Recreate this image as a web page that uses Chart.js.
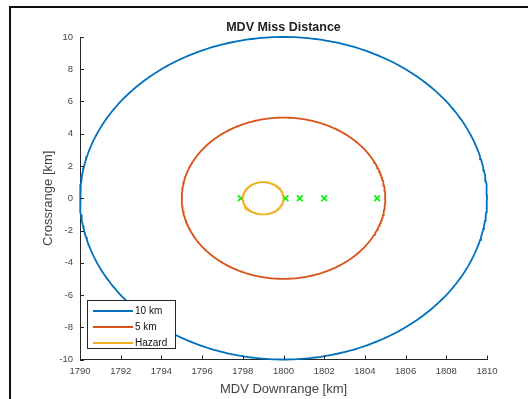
<!DOCTYPE html>
<html lang="en">
<head>
<meta charset="UTF-8">
<title>MDV Miss Distance</title>
<style>
  html, body { margin: 0; padding: 0; background: #fff; }
  .frame { position: relative; width: 528px; height: 399px; overflow: hidden; }
  .frame canvas { position: absolute; left: 0; top: 0; }
  /* figure window edge */
  .edge { position: absolute; left: 9px; top: 6px; right: -4px; bottom: -4px;
          border-left: 2px solid #111; border-top: 2px solid #111; pointer-events: none; }
</style>
</head>
<body>
<div class="frame">
  <canvas id="missChart" width="528" height="399"></canvas>
  <div class="edge"></div>
</div>
<script src="https://cdn.jsdelivr.net/npm/chart.js"></script>
<script>
// range rings around the aim point, plus the hazard zone (km)
const ringLabels = ['10 km', '5 km', 'Hazard'];
const ringCenterX = [1800, 1800, 1799];
const ringCenterY = [0, 0, 0];
const ringRadius = [10, 5, 1];
const ringColors = ['#0072bd', '#d95319', '#edb120'];

// individual miss points
const missX = [1797.9, 1800.1, 1800.8, 1802.0, 1804.6];
const missY = [0, 0, 0, 0, 0];

const xTicks = [1790, 1792, 1794, 1796, 1798, 1800, 1802, 1804, 1806, 1808, 1810];
const yTicks = [-10, -8, -6, -4, -2, 0, 2, 4, 6, 8, 10];

// outline of a ring of radius r around (cx, cy)
function ringOutline(cx, cy, r) {
    const pts = [];
    const n = 360;
    for (let i = 0; i <= n; i++) {
        const a = (i / n) * 2 * Math.PI;
        pts.push({ x: cx + r * Math.cos(a), y: cy + r * Math.sin(a) });
    }
    return pts;
}

const datasets = ringLabels.map((label, i) => ({
    label: label,
    data: ringOutline(ringCenterX[i], ringCenterY[i], ringRadius[i]),
    showLine: true,
    borderColor: ringColors[i],
    borderWidth: 1.8,
    pointRadius: 0,
    tension: 0,
    clip: 5
}));

datasets.push({
    label: 'Miss',
    data: missX.map((x, i) => ({ x: x, y: missY[i] })),
    showLine: false,
    pointStyle: 'crossRot',
    pointRadius: 4,
    borderColor: '#11ee11',
    borderWidth: 1.8
});

const font = "'Liberation Sans', Arial, sans-serif";
const axisColor = '#262626';

// inward tick marks and the legend box in the lower left corner
const matlabAxes = {
    id: 'matlabAxes',
    afterDraw(chart) {
        const { ctx, chartArea: a, scales: { x, y } } = chart;
        ctx.save();
        ctx.strokeStyle = axisColor;
        ctx.lineWidth = 1;
        ctx.beginPath();
        x.ticks.forEach(t => {
            const px = Math.round(x.getPixelForValue(t.value)) + 0.5;
            ctx.moveTo(px, a.bottom);
            ctx.lineTo(px, a.bottom - 4);
        });
        y.ticks.forEach(t => {
            const py = Math.round(y.getPixelForValue(t.value)) + 0.5;
            ctx.moveTo(a.left, py);
            ctx.lineTo(a.left + 4, py);
        });
        ctx.stroke();

        const bx = 87.5, by = 300.5, bw = 88, bh = 48;
        ctx.fillStyle = '#fff';
        ctx.fillRect(bx, by, bw, bh);
        ctx.strokeStyle = axisColor;
        ctx.strokeRect(bx, by, bw, bh);
        ctx.font = '10px ' + font;
        ctx.textBaseline = 'middle';
        ringLabels.forEach((label, i) => {
            const ry = 311 + i * 16;
            ctx.strokeStyle = ringColors[i];
            ctx.lineWidth = 1.8;
            ctx.beginPath();
            ctx.moveTo(93, ry);
            ctx.lineTo(133, ry);
            ctx.stroke();
            ctx.fillStyle = '#111';
            ctx.fillText(label, 135, ry);
        });
        ctx.restore();
    }
};

new Chart(document.getElementById('missChart'), {
    type: 'scatter',
    data: { datasets: datasets },
    plugins: [matlabAxes],
    options: {
        responsive: false,
        animation: false,
        layout: { padding: { left: 0, right: 41, top: 0, bottom: 0 } },
        scales: {
            x: {
                type: 'linear',
                min: 1790,
                max: 1810,
                afterFit(s) { s.height = 39.5; },
                afterBuildTicks(s) { s.ticks = xTicks.map(v => ({ value: v })); },
                grid: { display: false, drawTicks: false },
                border: { display: true, color: axisColor, width: 1 },
                ticks: {
                    padding: 6,
                    color: '#444',
                    font: { family: font, size: 9.5 },
                    maxRotation: 0,
                    callback: v => String(v)
                },
                title: {
                    display: true,
                    text: 'MDV Downrange [km]',
                    color: '#444',
                    font: { family: font, size: 13 },
                    padding: { top: 0, bottom: 2 }
                }
            },
            y: {
                type: 'linear',
                min: -10,
                max: 10,
                afterFit(s) { s.width = 80; },
                afterBuildTicks(s) { s.ticks = yTicks.map(v => ({ value: v })); },
                grid: { display: false, drawTicks: false },
                border: { display: true, color: axisColor, width: 1 },
                ticks: {
                    padding: 7,
                    color: '#444',
                    font: { family: font, size: 9.5 },
                    callback: v => String(v)
                },
                title: {
                    display: true,
                    text: 'Crossrange [km]',
                    color: '#444',
                    font: { family: font, size: 13 },
                    padding: { top: 41, bottom: 0 }
                }
            }
        },
        plugins: {
            legend: { display: false },
            tooltip: { enabled: false },
            title: {
                display: true,
                text: 'MDV Miss Distance',
                color: '#222',
                fullSize: false,
                font: { family: font, size: 12.5, weight: 'bold' },
                padding: { top: 20, bottom: 2 }
            }
        }
    }
});
</script>
</body>
</html>
